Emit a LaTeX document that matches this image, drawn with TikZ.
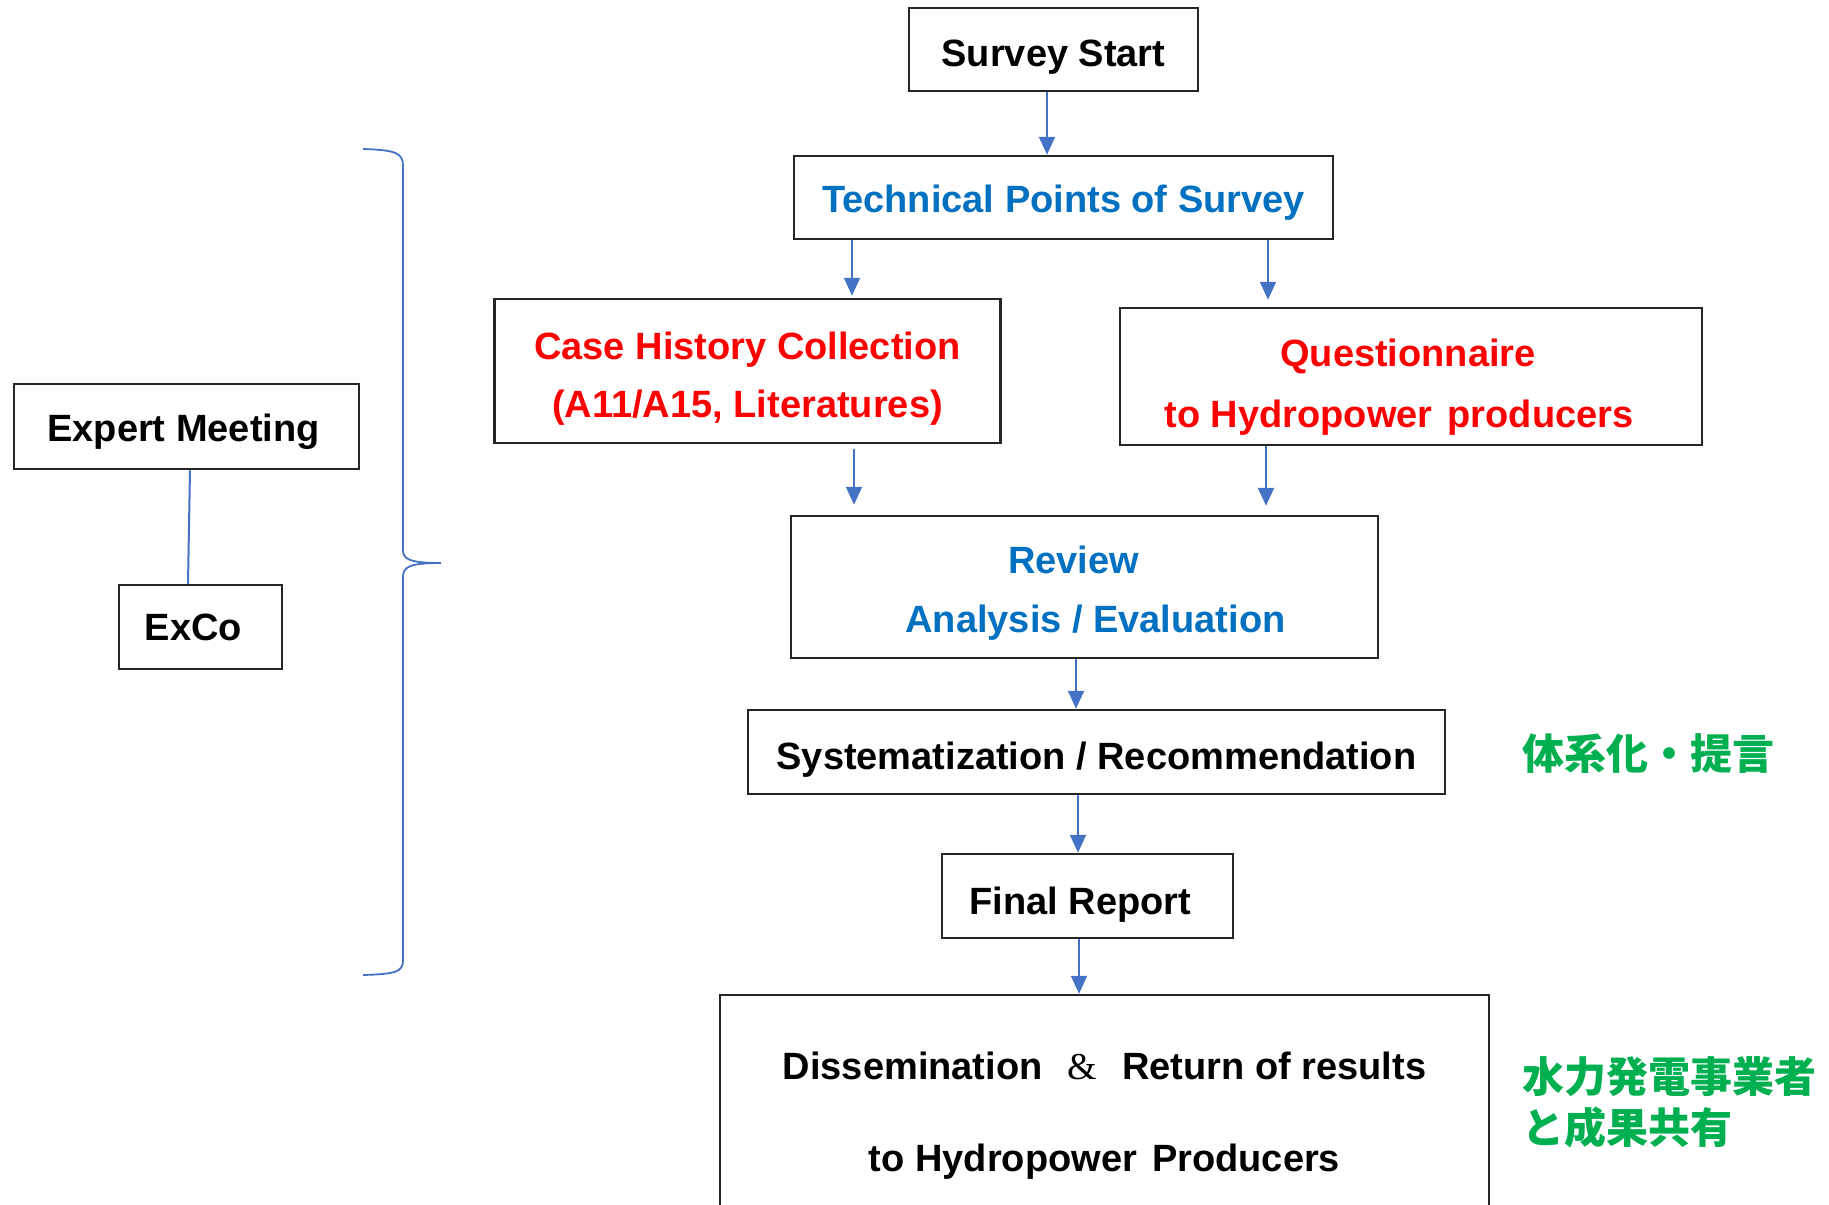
\documentclass[tikz,border=0pt]{standalone}
\usepackage{fontspec}
\setmainfont{Liberation Sans}
\newfontfamily\jpfont{Noto Sans CJK JP}
\newfontfamily\ampfont{Liberation Serif}
\usetikzlibrary{arrows.meta}
\definecolor{tblue}{HTML}{0070C0}
\definecolor{tred}{HTML}{FF0000}
\definecolor{tgreen}{HTML}{00B050}
\definecolor{abl}{HTML}{4472C4}
\newcommand{\lift}[1]{\rule{0pt}{#1pt}}
\begin{document}
\begin{tikzpicture}[x=1pt,y=-1pt,
  box/.style={draw=black!85, line width=2.5pt, inner sep=0pt, align=center,
    font=\bfseries\fontsize{38}{58}\selectfont},
  arr/.style={draw=abl, line width=2pt, -{Triangle[length=18pt,width=16pt]}},
  link/.style={draw=abl, line width=2pt},
  bracestyle/.style={draw=abl, line width=1.8pt},
  jp/.style={text=tgreen, inner sep=0pt, align=left,
    font=\jpfont\bfseries\fontsize{42}{51}\selectfont}]
\path[use as bounding box] (0,0) rectangle (1829,1205);
\clip (0,0) rectangle (1829,1205);

% main flow
\node[box, minimum width=289pt, minimum height=83pt] (start) at (1053.5,49.5) {\lift{42}Survey Start};
\node[box, text=tblue, minimum width=539pt, minimum height=83pt] (tech) at (1063.5,197.5) {\lift{38}Technical Points of Survey};
\node[box, text=tred, minimum width=506pt, minimum height=144pt] (case) at (747.5,371) {\lift{42}Case History Collection\\(A11/A15, Literatures)};
\node[box, text=tred, minimum width=582pt, minimum height=137pt,
  font=\bfseries\fontsize{38}{61}\selectfont] (quest) at (1411,376.5) {\lift{48}\hbox{Questionnaire\kern6pt}\\\hbox{to Hydropower\hspace{0.4em}producers\kern24pt}};
\node[box, text=tblue, minimum width=587pt, minimum height=142pt,
  font=\bfseries\fontsize{38}{59}\selectfont] (review) at (1084.5,587) {\lift{40}\hbox{Review\kern22pt}\\\hbox{\kern22pt Analysis / Evaluation}};
\node[box, minimum width=697pt, minimum height=84pt] (syst) at (1096.5,752) {\lift{42}Systematization / Recommendation};
\node[box, minimum width=291pt, minimum height=84pt] (final) at (1087.5,896) {\lift{44}\hbox{Final Report\kern14pt}};
\node[box, minimum width=769pt, minimum height=225pt,
  font=\bfseries\fontsize{38}{92}\selectfont] (diss) at (1104.5,1107.5)
  {\lift{43}Dissemination\hspace{25pt}{\mdseries\ampfont\&}\hspace{25pt}Return of results\\to Hydropower\hspace{0.4em}Producers};

% left side
\node[box, minimum width=345pt, minimum height=85pt] (expert) at (186.5,426.5) {\lift{38}\hbox{Expert Meeting\kern6pt}};
\node[box, minimum width=163pt, minimum height=84pt] (exco) at (200.5,627) {\hbox{ExCo\kern14pt}};

% green notes
\node[jp, anchor=west] (g1) at (1522,754) {体系化・提言};
\node[jp, anchor=west] (g2) at (1522,1102) {水力発電事業者\\と成果共有};

% connectors
\draw[arr] (start.south -| 1047,0) -- (tech.north -| 1047,0);
\draw[arr, shorten >=2pt] (tech.south -| 852,0) -- (case.north -| 852,0);
\draw[arr, shorten >=7pt] (tech.south -| 1268,0) -- (quest.north -| 1268,0);
\draw[arr, shorten <=5pt, shorten >=10pt] (case.south -| 854,0) -- (review.north -| 854,0);
\draw[arr, shorten >=9pt] (quest.south -| 1266,0) -- (review.north -| 1266,0);
\draw[arr] (review.south -| 1076,0) -- (syst.north -| 1076,0);
\draw[arr] (syst.south -| 1078,0) -- (final.north -| 1078,0);
\draw[arr] (final.south -| 1079,0) -- (diss.north -| 1079,0);
\draw[link] (expert.south -| 190,0) -- (exco.north -| 188,0);

% brace
\draw[bracestyle] (363,149) .. controls (396,150) and (403,153) .. (403,166)
  -- (403,550) .. controls (403,559) and (409,563) .. (441,563)
  .. controls (409,563) and (403,567) .. (403,577)
  -- (403,960) .. controls (403,972) and (396,974) .. (363,975);
\end{tikzpicture}
\end{document}
